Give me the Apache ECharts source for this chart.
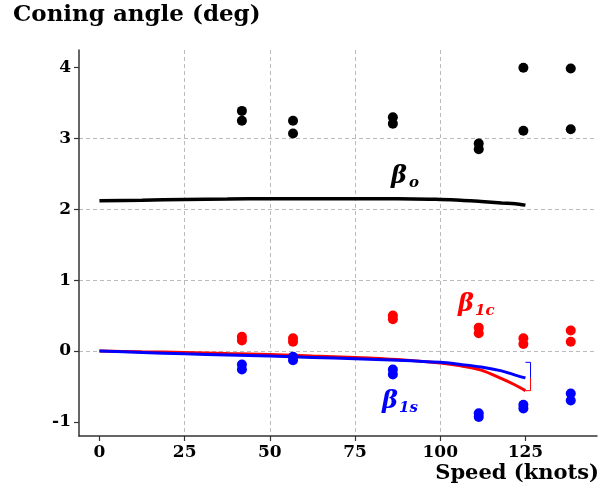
<!DOCTYPE html>
<html>
<head>
<meta charset="utf-8">
<script src="https://cdn.jsdelivr.net/npm/echarts@6/dist/echarts.min.js"></script>
<style>html,body{margin:0;padding:0;background:#fff}#c{width:605px;height:491px}</style>
</head>
<body>
<div id="c"></div>
<script>
// Measured test points (two readings per speed)
const testSpeeds = [41.8, 56.8, 86.1, 111.3, 124.4, 138.3];
const betaO_a  = [3.39, 3.25, 3.30, 2.93, 4.00, 3.99];
const betaO_b  = [3.25, 3.07, 3.21, 2.85, 3.11, 3.13];
const beta1c_a = [0.20, 0.18, 0.50, 0.33, 0.18, 0.29];
const beta1c_b = [0.15, 0.13, 0.45, 0.25, 0.10, 0.13];
const beta1s_a = [-0.19, -0.08, -0.26, -0.88, -0.76, -0.60];
const beta1s_b = [-0.26, -0.13, -0.33, -0.93, -0.81, -0.70];

// Model curves
const modelSpeed   = [0, 12.5, 25, 37.5, 50, 62.5, 75, 87.5, 100, 106, 112, 118, 122, 125];
const betaO_model  = [2.12, 2.13, 2.14, 2.145, 2.15, 2.15, 2.15, 2.15, 2.14, 2.13, 2.11, 2.09, 2.08, 2.06];
const beta1c_model = [0, -0.01, -0.02, -0.035, -0.05, -0.07, -0.09, -0.12, -0.17, -0.21, -0.27, -0.39, -0.48, -0.56];
const beta1s_model = [0, -0.02, -0.04, -0.055, -0.07, -0.09, -0.11, -0.13, -0.16, -0.19, -0.225, -0.28, -0.34, -0.38];

// small end-of-curve artefacts
const blueTailX = [125, 126.5, 126.5];
const blueTailY = [-0.16, -0.16, -0.38];
const redTailX  = [126.5, 126.5, 125];
const redTailY  = [-0.38, -0.56, -0.56];

const xTicks = [0, 25, 50, 75, 100, 125];
const yTicks = [-1, 0, 1, 2, 3, 4];

const FONT = 'DejaVu Serif';
const zip = (xs, ys) => xs.map((x, i) => [x, ys[i]]);
const pts = (a, b) => testSpeeds.flatMap((x, i) => [[x, a[i]], [x, b[i]]]);

const chart = echarts.init(document.getElementById('c'), null, {renderer: 'canvas'});
const scatter = (data, color) => ({
  type: 'scatter', data, symbolSize: 10, itemStyle: {color, opacity: 1}, z: 5, silent: true
});
const line = (data, color, width, z, smooth) => ({
  type: 'line', data, showSymbol: false, symbol: 'none', smooth: smooth || false,
  lineStyle: {color, width}, z: z || 3, silent: true
});
chart.setOption({
  animation: false,
  backgroundColor: '#fff',
  grid: {left: 79, right: 8, top: 50, bottom: 55, containLabel: false},
  xAxis: {
    type: 'value', min: -6, max: 146, minInterval: 25, maxInterval: 25,
    axisLine: {show: true, onZero: false, lineStyle: {color: '#333', width: 1.5}},
    axisTick: {show: true, length: 5, lineStyle: {color: '#333', width: 1.2},
      customValues: xTicks},
    axisLabel: {color: '#000', fontFamily: FONT, fontWeight: 'bold', fontSize: 17, margin: 8,
      customValues: xTicks},
    splitLine: {show: true, showMinLine: false, showMaxLine: false,
      lineStyle: {color: '#bbb', type: [4, 3], width: 1}}
  },
  yAxis: {
    type: 'value', min: -1.2, max: 4.25, minInterval: 1, maxInterval: 1,
    axisLine: {show: true, onZero: false, lineStyle: {color: '#333', width: 1.5}},
    axisTick: {show: true, length: 5, lineStyle: {color: '#333', width: 1.2},
      customValues: yTicks},
    axisLabel: {color: '#000', fontFamily: FONT, fontWeight: 'bold', fontSize: 17, margin: 8,
      customValues: yTicks},
    splitLine: {show: true, showMinLine: false, showMaxLine: false,
      lineStyle: {color: '#bbb', type: [4, 3], width: 1}}
  },
  series: [
    line(zip(modelSpeed, betaO_model), '#000', 3.5, 3, 0.3),
    line(zip(modelSpeed, beta1c_model), '#ff0000', 3, 3, 0.3),
    line(zip(modelSpeed, beta1s_model), '#0000ff', 3, 4, 0.3),
    line(zip(blueTailX, blueTailY), '#0000ff', 1),
    line(zip(redTailX, redTailY), '#ff0000', 1),
    scatter(pts(betaO_a, betaO_b), '#000'),
    scatter(pts(beta1c_a, beta1c_b), '#ff0000'),
    scatter(pts(beta1s_a, beta1s_b), '#0000ff')
  ],
  graphic: [
    {type: 'text', left: 13, top: 4, style: {text: 'Coning angle (deg)', fill: '#000',
      font: 'bold 23px "DejaVu Serif"'}},
    {type: 'text', right: 6, top: 463, style: {text: 'Speed (knots)', fill: '#000',
      font: 'bold 21px "DejaVu Serif"'}},
    {type: 'text', left: 391, top: 165, style: {text: 'β', fill: '#000', font: 'bold italic 24px "DejaVu Serif"'}},
    {type: 'text', left: 409, top: 176, style: {text: 'o', fill: '#000', font: 'bold italic 15px "DejaVu Serif"'}},
    {type: 'text', left: 458, top: 293, style: {text: 'β', fill: '#ff0000', font: 'bold italic 24px "DejaVu Serif"'}},
    {type: 'text', left: 475, top: 304, style: {text: '1c', fill: '#ff0000', font: 'bold italic 15px "DejaVu Serif"'}},
    {type: 'text', left: 382, top: 390, style: {text: 'β', fill: '#0000ff', font: 'bold italic 24px "DejaVu Serif"'}},
    {type: 'text', left: 399, top: 401, style: {text: '1s', fill: '#0000ff', font: 'bold italic 15px "DejaVu Serif"'}}
  ]
});
</script>
</body>
</html>
